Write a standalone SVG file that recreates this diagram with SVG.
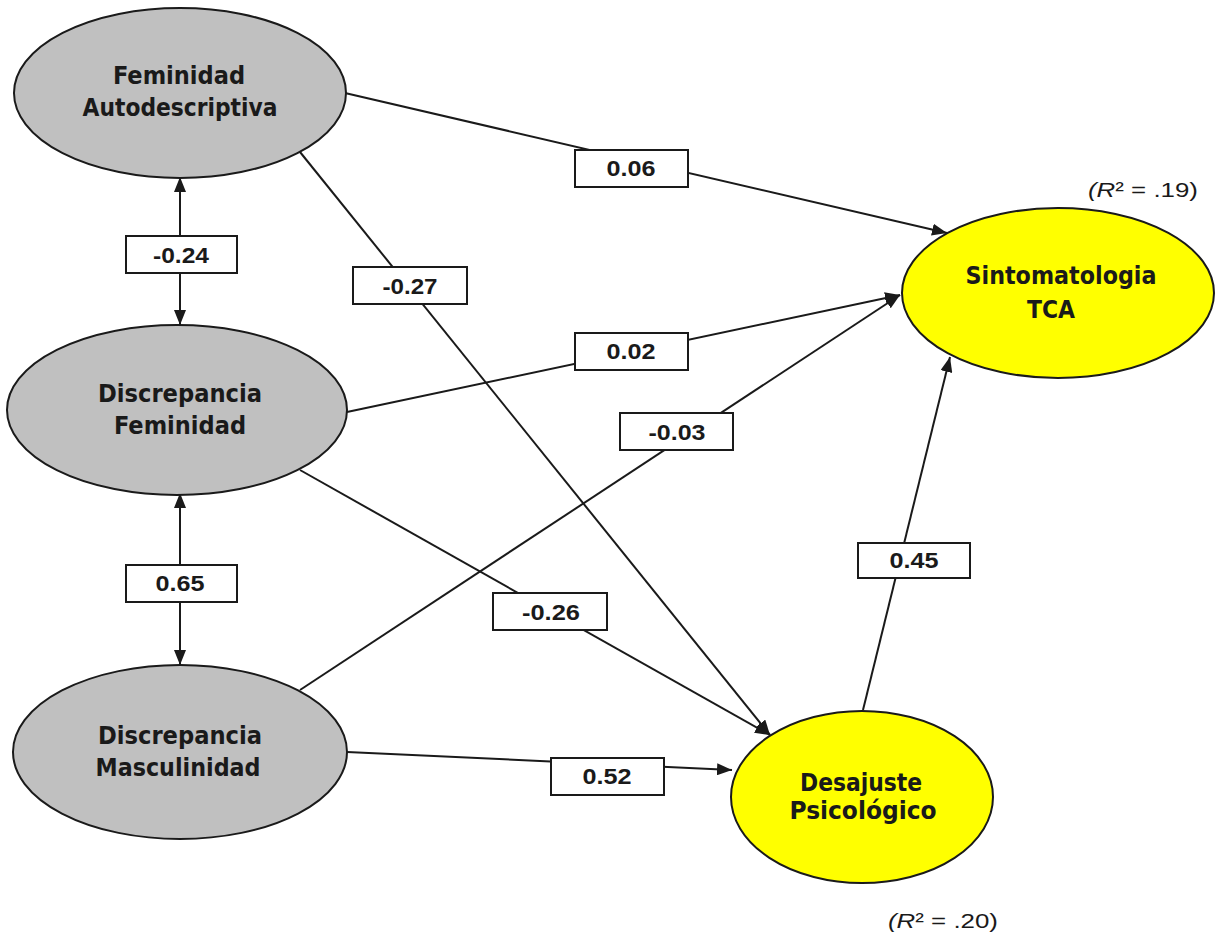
<svg xmlns="http://www.w3.org/2000/svg" width="1215" height="935" viewBox="0 0 1215 935">
  <style>
    .bg { fill: #ffffff; }
    .exo { fill: #c0c0c0; stroke: #1a1a1a; stroke-width: 2; }
    .endo { fill: #ffff00; stroke: #1a1a1a; stroke-width: 2; }
    .name { font-family: "DejaVu Sans Condensed", "DejaVu Sans", sans-serif; font-weight: bold; font-size: 24px; fill: #1a1a1a; text-anchor: middle; }
    .path { stroke: #1a1a1a; stroke-width: 2; fill: none; }
    .coef-box { fill: #ffffff; stroke: #1a1a1a; stroke-width: 2; }
    .coef { font-family: "Liberation Sans Narrow", "Liberation Sans", Arial, sans-serif; font-weight: bold; font-size: 22px; fill: #1a1a1a; text-anchor: middle; }
    .r2 { font-family: "Liberation Sans", Arial, sans-serif; font-size: 20px; fill: #1a1a1a; }
    .it { font-style: italic; }
  </style>
  <defs>
    <marker id="arrow" markerUnits="userSpaceOnUse" markerWidth="15" markerHeight="12" viewBox="0 0 15 12" refX="15" refY="6" orient="auto-start-reverse">
      <path d="M0,0 L15,6 L0,12 z" fill="#1a1a1a"/>
    </marker>
  </defs>

  <rect class="bg" x="0" y="0" width="1215" height="935"/>

  <!-- structural paths and correlations -->
  <g id="connectors">
    <line class="path" x1="345" y1="93" x2="947" y2="233" marker-end="url(#arrow)"/>
    <line class="path" x1="300" y1="152" x2="770" y2="735" marker-end="url(#arrow)"/>
    <line class="path" x1="347" y1="412" x2="900" y2="295" marker-end="url(#arrow)"/>
    <line class="path" x1="300" y1="470" x2="770" y2="735" marker-end="url(#arrow)"/>
    <line class="path" x1="300" y1="690" x2="900" y2="295" marker-end="url(#arrow)"/>
    <line class="path" x1="347" y1="752" x2="732" y2="770" marker-end="url(#arrow)"/>
    <line class="path" x1="863" y1="710" x2="950" y2="357" marker-end="url(#arrow)"/>
    <line class="path" x1="180" y1="177" x2="180" y2="325" marker-start="url(#arrow)" marker-end="url(#arrow)"/>
    <line class="path" x1="180" y1="493" x2="180" y2="665" marker-start="url(#arrow)" marker-end="url(#arrow)"/>

    <!-- coefficients -->
    <g id="c-fa-st"><rect class="coef-box" x="575" y="150" width="113" height="37"/><text class="coef" x="631" y="176" textLength="49" lengthAdjust="spacingAndGlyphs">0.06</text></g>
    <g id="c-fa-df"><rect class="coef-box" x="126" y="236" width="111" height="37"/><text class="coef" x="181" y="263" textLength="56" lengthAdjust="spacingAndGlyphs">-0.24</text></g>
    <g id="c-fa-dp"><rect class="coef-box" x="353" y="267" width="114" height="37"/><text class="coef" x="410" y="294" textLength="55" lengthAdjust="spacingAndGlyphs">-0.27</text></g>
    <g id="c-df-st"><rect class="coef-box" x="575" y="333" width="113" height="37"/><text class="coef" x="631" y="359" textLength="49" lengthAdjust="spacingAndGlyphs">0.02</text></g>
    <g id="c-dm-st"><rect class="coef-box" x="620" y="413" width="113" height="37"/><text class="coef" x="677" y="440" textLength="57" lengthAdjust="spacingAndGlyphs">-0.03</text></g>
    <g id="c-dp-st"><rect class="coef-box" x="858" y="543" width="112" height="35"/><text class="coef" x="914" y="568" textLength="49" lengthAdjust="spacingAndGlyphs">0.45</text></g>
    <g id="c-df-dm"><rect class="coef-box" x="126" y="565" width="111" height="37"/><text class="coef" x="180" y="591" textLength="49" lengthAdjust="spacingAndGlyphs">0.65</text></g>
    <g id="c-df-dp"><rect class="coef-box" x="493" y="593" width="114" height="37"/><text class="coef" x="551" y="620" textLength="58" lengthAdjust="spacingAndGlyphs">-0.26</text></g>
    <g id="c-dm-dp"><rect class="coef-box" x="551" y="758" width="113" height="37"/><text class="coef" x="607" y="784" textLength="49" lengthAdjust="spacingAndGlyphs">0.52</text></g>
  </g>

  <!-- exogenous constructs -->
  <g id="feminidad-autodescriptiva">
    <ellipse class="exo" cx="180" cy="93" rx="166" ry="85"/>
    <text class="name" x="179" y="84" textLength="132" lengthAdjust="spacingAndGlyphs">Feminidad</text>
    <text class="name" x="180" y="116" textLength="195" lengthAdjust="spacingAndGlyphs">Autodescriptiva</text>
  </g>
  <g id="discrepancia-feminidad">
    <ellipse class="exo" cx="177" cy="410" rx="170" ry="85"/>
    <text class="name" x="180" y="402" textLength="164" lengthAdjust="spacingAndGlyphs">Discrepancia</text>
    <text class="name" x="180" y="434" textLength="132" lengthAdjust="spacingAndGlyphs">Feminidad</text>
  </g>
  <g id="discrepancia-masculinidad">
    <ellipse class="exo" cx="180" cy="752" rx="167" ry="87"/>
    <text class="name" x="180" y="744" textLength="164" lengthAdjust="spacingAndGlyphs">Discrepancia</text>
    <text class="name" x="178" y="776" textLength="165" lengthAdjust="spacingAndGlyphs">Masculinidad</text>
  </g>

  <!-- endogenous constructs -->
  <g id="sintomatologia-tca">
    <ellipse class="endo" cx="1058" cy="293" rx="156" ry="85"/>
    <text class="name" x="1061" y="284" textLength="191" lengthAdjust="spacingAndGlyphs">Sintomatologia</text>
    <text class="name" x="1051" y="318" textLength="48" lengthAdjust="spacingAndGlyphs">TCA</text>
    <text class="r2" x="1088" y="197" textLength="110" lengthAdjust="spacingAndGlyphs"><tspan class="it">(R</tspan>² = .19)</text>
  </g>
  <g id="desajuste-psicologico">
    <ellipse class="endo" cx="862" cy="797" rx="131" ry="86"/>
    <text class="name" x="861" y="791" textLength="122" lengthAdjust="spacingAndGlyphs">Desajuste</text>
    <text class="name" x="863" y="819" textLength="147" lengthAdjust="spacingAndGlyphs">Psicológico</text>
    <text class="r2" x="888" y="928" textLength="110" lengthAdjust="spacingAndGlyphs"><tspan class="it">(R</tspan>² = .20)</text>
  </g>
</svg>
